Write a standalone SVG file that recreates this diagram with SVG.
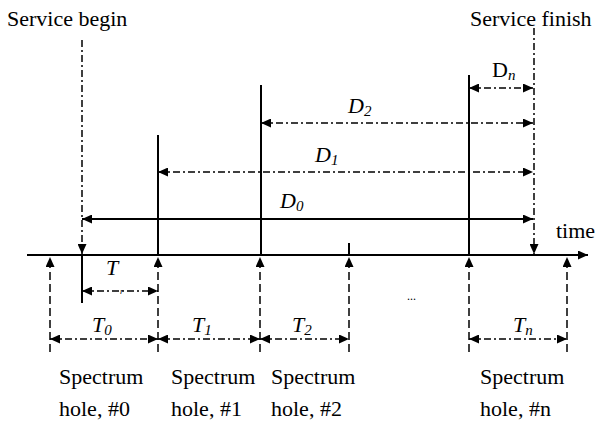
<svg xmlns="http://www.w3.org/2000/svg" width="598" height="426" viewBox="0 0 598 426">
<style>
.solid{stroke:#000;stroke-width:2;fill:none}
.dd{stroke:#000;stroke-width:1.5;fill:none;stroke-dasharray:7 3 2 3}
.dash{stroke:#000;stroke-width:1.5;fill:none;stroke-dasharray:8 4}
</style>
<defs>
<marker id="ah" markerUnits="userSpaceOnUse" markerWidth="11" markerHeight="9" refX="10" refY="4.5" orient="auto-start-reverse">
<path d="M0,0 L10,4.5 L0,9 z" fill="#000"/>
</marker>
</defs>
<g id="labels-top" font-size="22" fill="#000">
<text x="7" y="26" style="font-family:'Liberation Serif',serif">Service begin</text>
<text x="470" y="26" style="font-family:'Liberation Serif',serif">Service finish</text>
<text x="556" y="238" style="font-family:'Liberation Serif',serif">time</text>
</g>
<g id="axis">
<line class="solid" x1="27" y1="255" x2="588" y2="255" marker-end="url(#ah)"/>
</g>
<g id="boundaries">
<line class="solid" x1="82" y1="255" x2="82" y2="303"/>
<line class="solid" x1="158" y1="135" x2="158" y2="255"/>
<line class="solid" x1="261" y1="85" x2="261" y2="255"/>
<line class="solid" x1="469" y1="75" x2="469" y2="255"/>
<line class="solid" x1="349" y1="243" x2="349" y2="255"/>
</g>
<g id="connectors">
<line class="dd" x1="82" y1="40" x2="82" y2="254" marker-end="url(#ah)"/>
<line class="dd" x1="534" y1="28" x2="534" y2="254" marker-end="url(#ah)"/>
<line class="solid" x1="82" y1="219" x2="533" y2="219" stroke-width="1.5" marker-start="url(#ah)" marker-end="url(#ah)"/>
<line class="dd" x1="158" y1="172" x2="533" y2="172" marker-start="url(#ah)" marker-end="url(#ah)"/>
<line class="dd" x1="261" y1="123" x2="533" y2="123" marker-start="url(#ah)" marker-end="url(#ah)"/>
<line class="dd" x1="469" y1="88" x2="533" y2="88" marker-start="url(#ah)" marker-end="url(#ah)"/>
<line class="dash" x1="50" y1="352" x2="50" y2="257" marker-end="url(#ah)"/>
<line class="dash" x1="158" y1="352" x2="158" y2="257" marker-end="url(#ah)"/>
<line class="dash" x1="260" y1="352" x2="260" y2="257" marker-end="url(#ah)"/>
<line class="dash" x1="349" y1="352" x2="349" y2="257" marker-end="url(#ah)"/>
<line class="dash" x1="469" y1="352" x2="469" y2="257" marker-end="url(#ah)"/>
<line class="dash" x1="567" y1="352" x2="567" y2="257" marker-end="url(#ah)"/>
<line class="dd" x1="82" y1="291" x2="158" y2="291" marker-start="url(#ah)" marker-end="url(#ah)"/>
<line class="dd" x1="50" y1="339" x2="158" y2="339" marker-start="url(#ah)" marker-end="url(#ah)"/>
<line class="dd" x1="158" y1="339" x2="260" y2="339" marker-start="url(#ah)" marker-end="url(#ah)"/>
<line class="dd" x1="260" y1="339" x2="349" y2="339" marker-start="url(#ah)" marker-end="url(#ah)"/>
<line class="dd" x1="469" y1="339" x2="567" y2="339" marker-start="url(#ah)" marker-end="url(#ah)"/>
</g>
<g id="d-labels" font-size="22" fill="#000">
<text x="280" y="208" style="font-family:'Liberation Serif',serif;font-style:italic">D<tspan font-size="15" dy="3">0</tspan></text>
<text x="315" y="162" style="font-family:'Liberation Serif',serif;font-style:italic">D<tspan font-size="15" dy="3">1</tspan></text>
<text x="348" y="113" style="font-family:'Liberation Serif',serif;font-style:italic">D<tspan font-size="15" dy="3">2</tspan></text>
<text x="492" y="77" style="font-family:'Liberation Serif',serif">D<tspan font-size="15" dy="3" style="font-style:italic">n</tspan></text>
</g>
<g id="t-labels" font-size="22" fill="#000">
<text x="106" y="275" style="font-family:'Liberation Serif',serif;font-style:italic">T</text>
<text x="120" y="294" font-size="9" style="font-family:'Liberation Serif',serif;font-style:italic">r</text>
<text x="92" y="332" style="font-family:'Liberation Serif',serif;font-style:italic">T<tspan font-size="15" dy="3">0</tspan></text>
<text x="192" y="332" style="font-family:'Liberation Serif',serif;font-style:italic">T<tspan font-size="15" dy="3">1</tspan></text>
<text x="292" y="332" style="font-family:'Liberation Serif',serif;font-style:italic">T<tspan font-size="15" dy="3">2</tspan></text>
<text x="513" y="332" style="font-family:'Liberation Serif',serif;font-style:italic">T<tspan font-size="15" dy="3">n</tspan></text>
<text x="407" y="300" font-size="12" style="font-family:'Liberation Serif',serif">...</text>
</g>
<g id="hole0" font-size="22" fill="#000"><text x="59" y="384" style="font-family:'Liberation Serif',serif">Spectrum</text><text x="59" y="416" style="font-family:'Liberation Serif',serif">hole, #0</text></g>
<g id="hole1" font-size="22" fill="#000"><text x="171" y="384" style="font-family:'Liberation Serif',serif">Spectrum</text><text x="171" y="416" style="font-family:'Liberation Serif',serif">hole, #1</text></g>
<g id="hole2" font-size="22" fill="#000"><text x="271" y="384" style="font-family:'Liberation Serif',serif">Spectrum</text><text x="271" y="416" style="font-family:'Liberation Serif',serif">hole, #2</text></g>
<g id="holen" font-size="22" fill="#000"><text x="480" y="384" style="font-family:'Liberation Serif',serif">Spectrum</text><text x="480" y="416" style="font-family:'Liberation Serif',serif">hole, #n</text></g>
</svg>
